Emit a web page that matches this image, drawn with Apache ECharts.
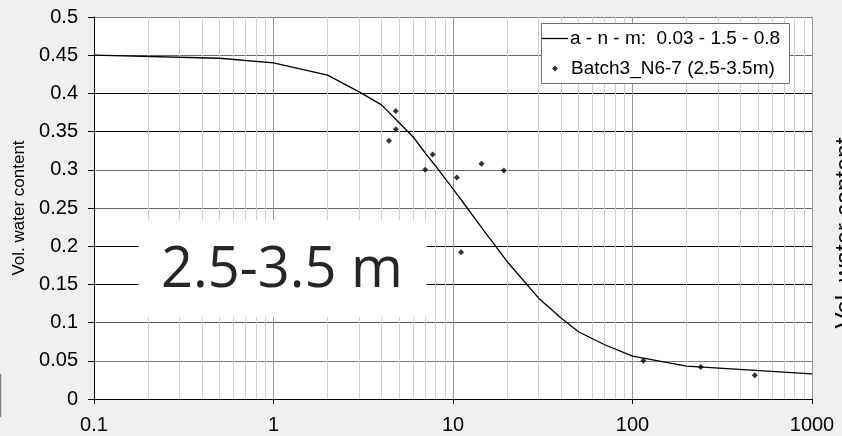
<!DOCTYPE html>
<html>
<head>
<meta charset="utf-8">
<script src="https://cdn.jsdelivr.net/npm/echarts@6/dist/echarts.min.js"></script>
<style>
  html, body { margin: 0; padding: 0; background: #f0f0f0; }
  #chart { width: 842px; height: 436px; }
</style>
</head>
<body>
<div id="chart"></div>
<script>
// fitted curve
const curveX = [0.1, 0.5, 1, 2, 3, 4, 5, 6, 7, 8, 9, 10, 12, 15, 20, 30, 40, 50, 70, 100, 200, 1000]
const curveY = [0.450, 0.446, 0.440, 0.424, 0.402, 0.385, 0.362, 0.343, 0.322, 0.305, 0.289, 0.275, 0.250, 0.219, 0.180, 0.132, 0.106, 0.088, 0.071, 0.056, 0.043, 0.033]

// measured points
const pointX = [4.4, 4.8, 4.8, 7.0, 7.7, 10.5, 11.1, 14.4, 19.2, 115, 240, 480]
const pointY = [0.338, 0.353, 0.377, 0.300, 0.320, 0.290, 0.192, 0.308, 0.299, 0.050, 0.042, 0.031]

const minorTicks = [0.2, 0.3, 0.4, 0.5, 0.6, 0.7, 0.8, 0.9,
    2, 3, 4, 5, 6, 7, 8, 9,
    20, 30, 40, 50, 60, 70, 80, 90,
    200, 300, 400, 500, 600, 700, 800, 900]

const lineName = 'a - n - m:  0.03 - 1.5 - 0.8'
const pointName = 'Batch3_N6-7 (2.5-3.5m)'
const yTitle = 'Vol. water content'
const boxLabel = '2.5-3.5 m'

const FONT = '"Liberation Sans", Arial, sans-serif'

function pairs(xs, ys) {
    let out = []
    for (let i = 0; i < xs.length; i++) {
        out.push([xs[i], ys[i]])
    }
    return out
}

var dom = document.getElementById('chart')
var myChart = echarts.init(dom, null, { renderer: 'canvas' })
var option

option = {
    animation: false,
    backgroundColor: '#f0f0f0',
    grid: {
        left: 94,
        right: 30,
        top: 17,
        bottom: 37,
        show: true,
        backgroundColor: '#fff',
        borderWidth: 0
    },
    legend: [
        {
            data: [{ name: lineName, icon: 'rect', itemStyle: { color: '#000' } }],
            left: 542,
            top: 29,
            padding: 0,
            itemWidth: 26,
            itemHeight: 1.3,
            symbolKeepAspect: false,
            selectedMode: false,
            textStyle: { fontFamily: FONT, fontSize: 19, color: '#000', padding: [0, 0, 0, -3] }
        },
        {
            data: [{ name: pointName, icon: 'diamond', itemStyle: { color: '#000' } }],
            left: 552,
            top: 59,
            padding: 0,
            itemWidth: 6,
            itemHeight: 6,
            selectedMode: false,
            textStyle: { fontFamily: FONT, fontSize: 19, color: '#000', padding: [0, 0, 0, 8] }
        }
    ],
    xAxis: {
        type: 'log',
        logBase: 10,
        min: 0.1,
        max: 1000,
        axisLine: { show: true, onZero: false, lineStyle: { color: '#000', width: 1 } },
        axisTick: { show: true, length: 5, lineStyle: { color: '#000' } },
        axisLabel: {
            fontFamily: FONT,
            fontSize: 20,
            color: '#000',
            margin: 16,
            formatter: function (v) { return String(+v.toPrecision(6)) }
        },
        splitLine: { show: true, lineStyle: { color: '#999', width: 1 } }
    },
    yAxis: {
        type: 'value',
        min: 0,
        max: 0.5,
        interval: 0.05,
        name: yTitle,
        nameLocation: 'middle',
        nameGap: 64,
        nameTextStyle: { fontFamily: FONT, fontSize: 17, color: '#000' },
        axisLine: { show: true, lineStyle: { color: '#000', width: 1 } },
        axisTick: { show: true, length: 6, lineStyle: { color: '#000' } },
        axisLabel: {
            fontFamily: FONT,
            fontSize: 20,
            color: '#000',
            margin: 16,
            formatter: function (v) { return String(+v.toFixed(2)) }
        },
        splitLine: {
            show: true,
            lineStyle: {
                color: ['#000', '#808080', '#555', '#000', '#000', '#666', '#666', '#000', '#000', '#666', '#808080'],
                width: 1
            }
        }
    },
    graphic: [
        // label box over the grid
        { type: 'rect', z: 2, shape: { x: 138.5, y: 220, width: 288, height: 97 }, style: { fill: '#fff' } },
        {
            type: 'text', z: 2, x: 282, y: 271,
            style: { text: boxLabel, font: '56px "Open Sans", sans-serif', fill: '#262626', align: 'center', verticalAlign: 'middle' }
        },
        // legend box
        { type: 'rect', z: 3, shape: { x: 541.5, y: 23.5, width: 248, height: 60 }, style: { fill: '#fff', stroke: '#707070', lineWidth: 1 } },
        // pieces of the neighbouring charts
        { type: 'line', z: 2, shape: { x1: 0.5, y1: 374, x2: 0.5, y2: 417 }, style: { stroke: '#808080', lineWidth: 1.5 } },
        {
            type: 'text', z: 2, x: 845, y: 233, rotation: Math.PI / 2,
            style: { text: yTitle, font: '24px ' + FONT, fill: '#000', align: 'center', verticalAlign: 'middle' }
        }
    ],
    series: [
        {
            name: lineName,
            type: 'line',
            data: pairs(curveX, curveY),
            symbol: 'none',
            z: 4,
            itemStyle: { color: '#000' },
            lineStyle: { color: '#000', width: 1.3 },
            emphasis: { disabled: true },
            markLine: {
                silent: true,
                z: 1,
                symbol: ['none', 'none'],
                label: { show: false },
                emphasis: { disabled: true },
                lineStyle: { color: '#cfcfcf', width: 1, type: 'solid' },
                data: minorTicks.map(function (v) { return { xAxis: v } })
            }
        },
        {
            name: pointName,
            type: 'scatter',
            data: pairs(pointX, pointY),
            symbol: 'diamond',
            symbolSize: 6,
            z: 4,
            itemStyle: { color: '#000' },
            emphasis: { disabled: true }
        }
    ]
}

option && myChart.setOption(option)
</script>
</body>
</html>
